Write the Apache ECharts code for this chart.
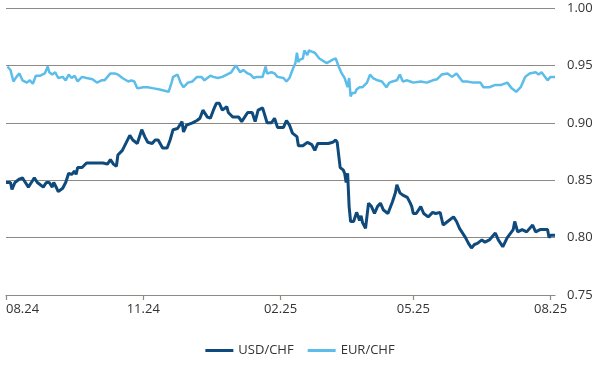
<!DOCTYPE html>
<html>
<head>
<meta charset="utf-8">
<script src="https://cdn.jsdelivr.net/npm/echarts@6/dist/echarts.min.js"></script>
<style>html,body{margin:0;padding:0;background:#fff}#c{width:600px;height:380px}</style>
</head>
<body>
<div id="c"></div>
<script>
const usdDates = ['2024-08-01','2024-08-04','2024-08-05','2024-08-07','2024-08-10','2024-08-12','2024-08-14','2024-08-16','2024-08-18','2024-08-20','2024-08-22','2024-08-24','2024-08-26','2024-08-28','2024-08-30','2024-09-01','2024-09-02','2024-09-04','2024-09-05','2024-09-08','2024-09-10','2024-09-12','2024-09-14','2024-09-16','2024-09-17','2024-09-18','2024-09-21','2024-09-24','2024-09-28','2024-10-01','2024-10-05','2024-10-08','2024-10-10','2024-10-12','2024-10-14','2024-10-15','2024-10-18','2024-10-23','2024-10-25','2024-10-28','2024-10-31','2024-11-02','2024-11-04','2024-11-07','2024-11-09','2024-11-11','2024-11-14','2024-11-17','2024-11-19','2024-11-21','2024-11-24','2024-11-27','2024-11-28','2024-11-30','2024-12-04','2024-12-07','2024-12-09','2024-12-11','2024-12-14','2024-12-16','2024-12-18','2024-12-20','2024-12-22','2024-12-24','2024-12-27','2024-12-28','2024-12-31','2025-01-04','2025-01-06','2025-01-10','2025-01-13','2025-01-15','2025-01-17','2025-01-20','2025-01-23','2025-01-26','2025-01-28','2025-01-30','2025-02-03','2025-02-05','2025-02-07','2025-02-09','2025-02-12','2025-02-13','2025-02-16','2025-02-19','2025-02-22','2025-02-24','2025-02-26','2025-03-01','2025-03-05','2025-03-08','2025-03-10','2025-03-11','2025-03-12','2025-03-13','2025-03-14','2025-03-15','2025-03-16','2025-03-17','2025-03-18','2025-03-19','2025-03-20','2025-03-22','2025-03-23','2025-03-24','2025-03-26','2025-03-27','2025-03-28','2025-03-30','2025-04-01','2025-04-03','2025-04-05','2025-04-07','2025-04-09','2025-04-11','2025-04-14','2025-04-17','2025-04-19','2025-04-20','2025-04-22','2025-04-24','2025-04-27','2025-04-29','2025-04-30','2025-05-01','2025-05-03','2025-05-06','2025-05-08','2025-05-11','2025-05-14','2025-05-16','2025-05-19','2025-05-21','2025-05-22','2025-05-24','2025-05-28','2025-05-30','2025-06-01','2025-06-05','2025-06-07','2025-06-09','2025-06-11','2025-06-13','2025-06-16','2025-06-18','2025-06-21','2025-06-25','2025-06-27','2025-06-30','2025-07-03','2025-07-07','2025-07-08','2025-07-10','2025-07-13','2025-07-16','2025-07-20','2025-07-22','2025-07-25','2025-07-30','2025-07-31','2025-08-01','2025-08-04'];
const usdValues = [0.848,0.848,0.842,0.848,0.851,0.852,0.848,0.844,0.848,0.852,0.848,0.846,0.844,0.848,0.848,0.844,0.848,0.843,0.840,0.843,0.848,0.856,0.855,0.858,0.855,0.861,0.861,0.865,0.865,0.865,0.865,0.864,0.868,0.864,0.862,0.872,0.876,0.889,0.885,0.882,0.894,0.888,0.883,0.882,0.885,0.885,0.878,0.878,0.885,0.894,0.895,0.901,0.892,0.898,0.900,0.902,0.904,0.911,0.905,0.904,0.911,0.917,0.917,0.911,0.914,0.909,0.905,0.905,0.901,0.909,0.909,0.901,0.911,0.913,0.900,0.900,0.904,0.896,0.896,0.902,0.898,0.891,0.888,0.880,0.880,0.883,0.881,0.876,0.882,0.882,0.882,0.883,0.885,0.883,0.882,0.861,0.861,0.859,0.856,0.848,0.856,0.827,0.814,0.814,0.814,0.822,0.815,0.819,0.813,0.808,0.830,0.827,0.821,0.827,0.830,0.824,0.821,0.831,0.839,0.846,0.839,0.837,0.835,0.830,0.827,0.821,0.821,0.827,0.821,0.818,0.822,0.821,0.822,0.811,0.811,0.814,0.818,0.814,0.808,0.800,0.795,0.791,0.794,0.795,0.798,0.796,0.798,0.804,0.798,0.792,0.800,0.807,0.814,0.805,0.807,0.805,0.811,0.805,0.807,0.807,0.800,0.802,0.802];
const eurDates = ['2024-08-02','2024-08-04','2024-08-06','2024-08-08','2024-08-10','2024-08-12','2024-08-15','2024-08-17','2024-08-19','2024-08-21','2024-08-24','2024-08-27','2024-08-29','2024-08-30','2024-09-01','2024-09-03','2024-09-05','2024-09-08','2024-09-10','2024-09-12','2024-09-14','2024-09-16','2024-09-18','2024-09-21','2024-09-24','2024-09-28','2024-10-01','2024-10-04','2024-10-06','2024-10-10','2024-10-13','2024-10-15','2024-10-18','2024-10-22','2024-10-24','2024-10-26','2024-10-28','2024-11-01','2024-11-04','2024-11-08','2024-11-12','2024-11-18','2024-11-20','2024-11-21','2024-11-24','2024-11-26','2024-11-28','2024-12-01','2024-12-04','2024-12-07','2024-12-10','2024-12-12','2024-12-16','2024-12-18','2024-12-21','2024-12-24','2024-12-27','2024-12-30','2025-01-02','2025-01-05','2025-01-07','2025-01-10','2025-01-12','2025-01-14','2025-01-16','2025-01-20','2025-01-22','2025-01-23','2025-01-26','2025-01-28','2025-01-30','2025-02-03','2025-02-05','2025-02-07','2025-02-09','2025-02-11','2025-02-12','2025-02-13','2025-02-14','2025-02-16','2025-02-17','2025-02-19','2025-02-20','2025-02-22','2025-02-24','2025-02-27','2025-03-04','2025-03-08','2025-03-10','2025-03-11','2025-03-12','2025-03-14','2025-03-16','2025-03-18','2025-03-19','2025-03-20','2025-03-21','2025-03-23','2025-03-24','2025-03-26','2025-03-28','2025-03-31','2025-04-02','2025-04-04','2025-04-07','2025-04-10','2025-04-13','2025-04-15','2025-04-17','2025-04-20','2025-04-22','2025-04-24','2025-04-27','2025-04-29','2025-05-01','2025-05-06','2025-05-10','2025-05-12','2025-05-14','2025-05-17','2025-05-20','2025-05-24','2025-05-27','2025-05-30','2025-06-03','2025-06-06','2025-06-10','2025-06-15','2025-06-17','2025-06-21','2025-06-25','2025-06-29','2025-07-03','2025-07-06','2025-07-09','2025-07-12','2025-07-15','2025-07-18','2025-07-22','2025-07-24','2025-07-26','2025-07-30','2025-08-01','2025-08-04'];
const eurValues = [0.949,0.946,0.936,0.940,0.943,0.937,0.935,0.937,0.934,0.941,0.941,0.943,0.949,0.944,0.942,0.944,0.939,0.940,0.937,0.942,0.939,0.941,0.936,0.940,0.939,0.938,0.935,0.937,0.937,0.943,0.943,0.942,0.939,0.936,0.937,0.936,0.930,0.931,0.931,0.930,0.929,0.927,0.935,0.940,0.942,0.935,0.931,0.935,0.936,0.940,0.940,0.937,0.941,0.940,0.939,0.940,0.942,0.944,0.950,0.944,0.946,0.943,0.942,0.939,0.940,0.940,0.949,0.943,0.944,0.943,0.940,0.939,0.936,0.939,0.946,0.952,0.961,0.953,0.955,0.956,0.963,0.959,0.963,0.962,0.961,0.956,0.952,0.955,0.956,0.957,0.949,0.943,0.939,0.931,0.939,0.923,0.926,0.926,0.929,0.931,0.931,0.935,0.942,0.939,0.937,0.936,0.931,0.935,0.936,0.937,0.942,0.936,0.937,0.936,0.935,0.936,0.935,0.936,0.937,0.938,0.942,0.943,0.940,0.943,0.936,0.936,0.935,0.935,0.931,0.931,0.933,0.933,0.935,0.930,0.927,0.931,0.940,0.943,0.944,0.942,0.944,0.937,0.940,0.940];
const xTickDates = ['2024-08-01','2024-11-01','2025-02-01','2025-05-01','2025-08-01'];
const xTickLabels = ['08.24','11.24','02.25','05.25','08.25'];
const xRange = ['2024-08-01','2025-08-04'];
const seriesNames = ['USD/CHF','EUR/CHF'];
const yMin = 0.75, yMax = 1.00, yStep = 0.05;

const ts = d => Date.parse(d + 'T00:00:00Z');
const zip = (d, v) => d.map((x, i) => [ts(x), v[i]]);
const tickTs = xTickDates.map(ts);
const FONT = '"Open Sans", sans-serif';
const AX = '#8c8a82';
const chart = echarts.init(document.getElementById('c'), null, {renderer: 'canvas'});
chart.setOption({
  animation: false,
  backgroundColor: '#fff',
  grid: {left: 6, right: 45, top: 8, bottom: 85, containLabel: false, outerBoundsMode: 'none'},
  xAxis: {
    type: 'value',
    min: ts(xRange[0]),
    max: ts(xRange[1]),
    axisLine: {show: true, lineStyle: {color: AX, width: 1.2}},
    axisTick: {show: true, length: 5, lineStyle: {color: AX, width: 1.2}, customValues: tickTs},
    axisLabel: {
      customValues: tickTs,
      color: '#333', fontSize: 13, fontFamily: FONT, margin: 8,
      showMinLabel: true, showMaxLabel: true,
      alignMinLabel: 'left',
      formatter: function (val) {
        const i = tickTs.indexOf(val);
        return i >= 0 ? xTickLabels[i] : '';
      }
    },
    splitLine: {show: false}
  },
  yAxis: {
    type: 'value',
    position: 'right',
    min: yMin, max: yMax, interval: yStep,
    axisLine: {show: false},
    axisTick: {show: false},
    axisLabel: {color: '#333', fontSize: 13, fontFamily: FONT, margin: 12, formatter: v => v.toFixed(2)},
    splitLine: {show: true, lineStyle: {color: AX, width: 1.2}}
  },
  legend: {
    bottom: 18, left: 'center',
    icon: 'rect', itemWidth: 28, itemHeight: 3, itemGap: 14,
    textStyle: {color: '#333', fontSize: 13, fontFamily: FONT},
    data: seriesNames
  },
  series: [
    {name: seriesNames[0], type: 'line', data: zip(usdDates, usdValues), showSymbol: false, symbol: 'none',
     lineStyle: {color: '#0f4a7c', width: 3}, itemStyle: {color: '#0f4a7c'}, z: 3},
    {name: seriesNames[1], type: 'line', data: zip(eurDates, eurValues), showSymbol: false, symbol: 'none',
     lineStyle: {color: '#5cbdea', width: 2.5}, itemStyle: {color: '#5cbdea'}, z: 2}
  ]
});
</script>
</body>
</html>
